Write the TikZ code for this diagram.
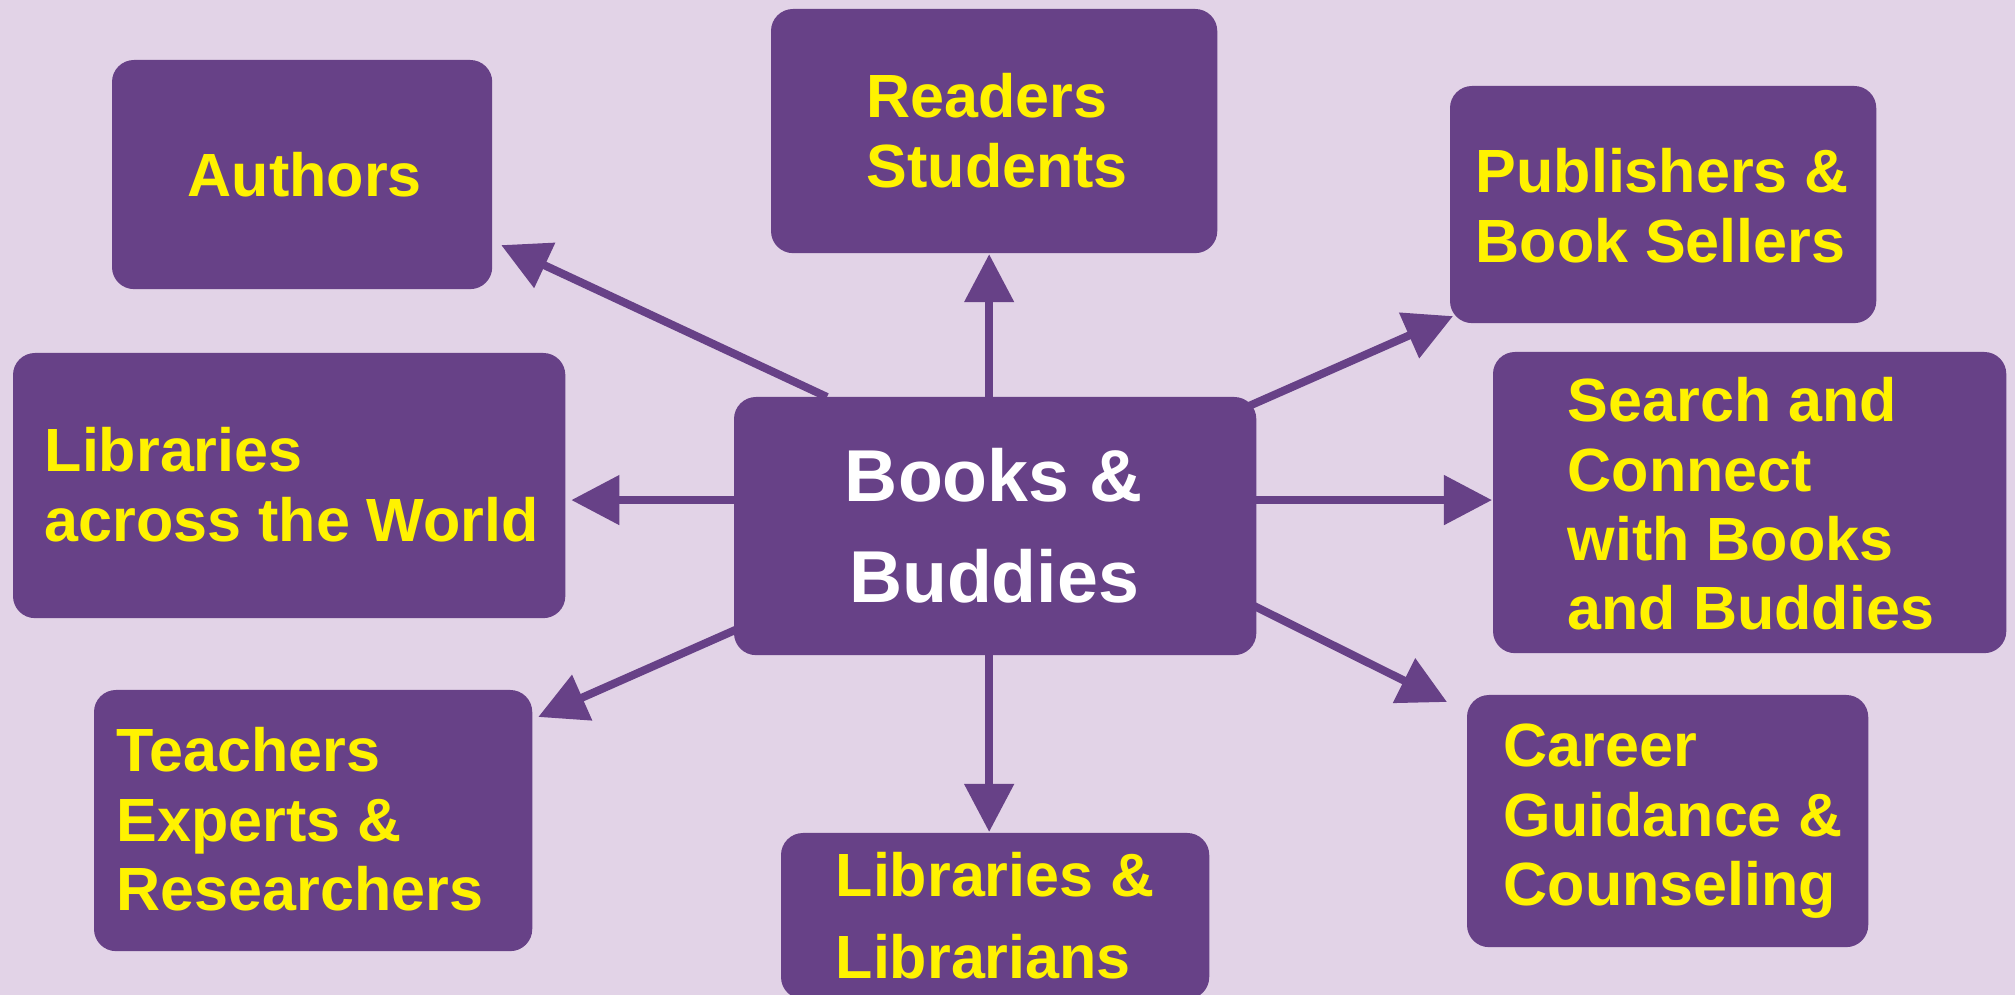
\documentclass[tikz,border=0pt]{standalone}
\usepackage{fontspec}
\setmainfont{Liberation Sans}
\usetikzlibrary{arrows.meta,calc,backgrounds}
\definecolor{bgc}{HTML}{E2D3E7}
\definecolor{purp}{HTML}{674187}
\definecolor{yel}{HTML}{FFF200}
\newcommand\yfont{\fontsize{17.36}{19.64}\selectfont\bfseries}
\newcommand\wfont{\fontsize{20.9}{28.45}\selectfont\bfseries}
\newcommand\lstack[1]{\vtop{\halign{##\hfil\cr#1\crcr}}}
\newcommand\cstack[1]{\vtop{\halign{\hfil##\hfil\cr#1\crcr}}}
\tikzset{
  box/.style={fill=purp, draw=none, rounded corners=0.22cm, inner sep=0pt, outer sep=0pt, anchor=north west},
  lbl/.style={text=yel, font=\yfont, anchor=base west, inner sep=0pt},
  conn/.style={draw=purp, line width=0.08cm, -{Triangle[length=0.48cm,width=0.48cm]}}
}
\begin{document}
\begin{tikzpicture}[x=0.01cm,y=-0.01cm]
\useasboundingbox (0,0) rectangle (2015,995);
\clip (0,0) rectangle (2015,995);
% boxes
\node[box, minimum width=3.80cm, minimum height=2.29cm] (authors) at (112,60) {};
\node[box, minimum width=4.46cm, minimum height=2.44cm] (readers) at (771,9) {};
\node[box, minimum width=4.26cm, minimum height=2.37cm] (publishers) at (1450,86) {};
\node[box, minimum width=5.13cm, minimum height=3.01cm] (search) at (1493,352) {};
\node[box, minimum width=5.52cm, minimum height=2.65cm] (world) at (13,353) {};
\node[box, minimum width=5.22cm, minimum height=2.58cm] (books) at (734,397) {};
\node[box, minimum width=4.38cm, minimum height=2.61cm] (teachers) at (94,690) {};
\node[box, minimum width=4.28cm, minimum height=1.66cm] (librarians) at (781,833) {};
\node[box, minimum width=4.01cm, minimum height=2.52cm] (career) at (1467,695) {};
% labels
\node[lbl] (tauthors) at (187,197) {Authors};
\node[lbl] (treaders) at (866,118) {\lstack{Readers\cr Students}};
\node[lbl] (tpublishers) at (1475,193) {\lstack{Publishers \&\cr Book Sellers}};
\node[lbl] (tsearch) at (1567,422) {\lstack{Search and\cr Connect\cr with Books\cr and Buddies}};
\node[lbl] (tworld) at (44,472) {\lstack{Libraries\cr across the World}};
\node[lbl] (tteachers) at (116,772) {\lstack{Teachers\cr Experts \&\cr Researchers}};
\node[lbl, font=\fontsize{17.36}{23.05}\selectfont\bfseries] (tlibrarians) at (835,897) {\lstack{Libraries \&\cr Librarians}};
\node[lbl] (tcareer) at (1503,767) {\lstack{Career\cr Guidance \&\cr Counseling}};
\node[text=white, font=\wfont, anchor=base, inner sep=0pt] (tbooks) at (994,502) {\cstack{Books \&\cr Buddies}};
% background and connectors
\begin{pgfonlayer}{background}
\fill[bgc] (0,0) rectangle (2015,995);
\draw[conn] ($(books.north west)+(93,0)$) -- ($(authors.south east)+(9,-44)$);
\coordinate (sReaders) at ($(books.north)+(-6,0)$);
\draw[conn] (sReaders) -- ($(sReaders |- readers.south)+(0,1)$);
\draw[conn] ($(books.north east)+(-30,19)$) -- ($(publishers.south west)+(3,-7)$);
\coordinate (sSearch) at ($(books.east)+(-5,-26)$);
\draw[conn] (sSearch) -- ($(sSearch -| search.west)+(-1,0)$);
\draw[conn] ($(books.east)+(-10,76)$) -- ($(career.north west)+(-20,7)$);
\coordinate (sLib) at ($(books.south)+(-6,0)$);
\draw[conn] (sLib) -- ($(sLib |- librarians.north)+(0,-1)$);
\draw[conn] ($(books.south west)+(10,-29)$) -- ($(teachers.north east)+(6,27)$);
\coordinate (sWorld) at ($(books.west)+(5,-26)$);
\draw[conn] (sWorld) -- ($(sWorld -| world.east)+(6,0)$);
\end{pgfonlayer}
\end{tikzpicture}
\end{document}
